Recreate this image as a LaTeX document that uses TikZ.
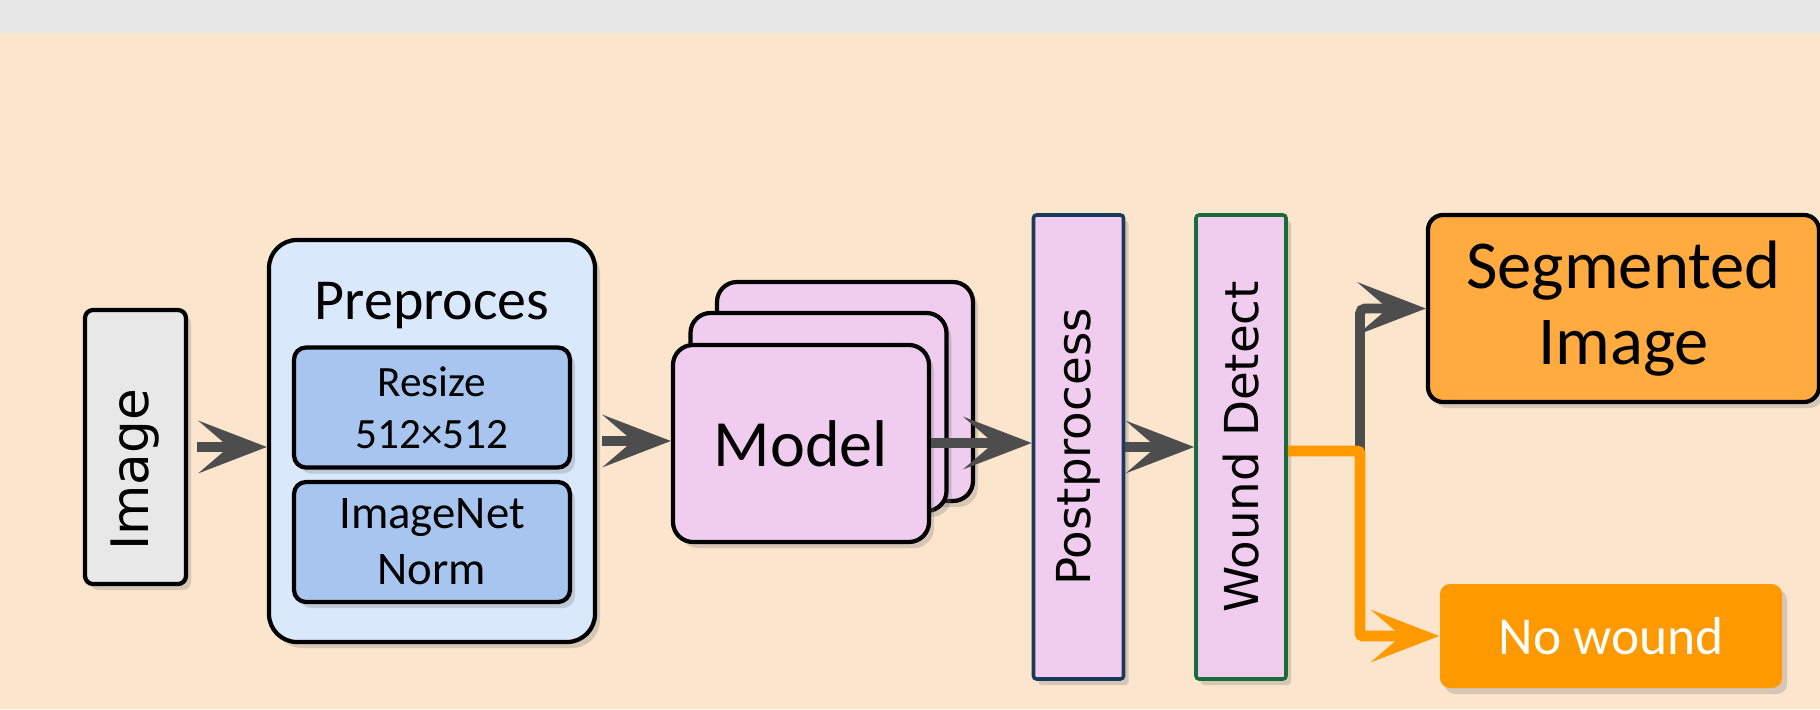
\documentclass[tikz,border=0pt]{standalone}
\usepackage{fontspec}
\setmainfont{Carlito}
\newfontfamily\vertfont{DejaVu Sans}
\usetikzlibrary{arrows.meta,shadows}
\definecolor{peach}{HTML}{FCE5CD}
\definecolor{titlegray}{HTML}{E7E7E7}
\definecolor{imggray}{HTML}{E8E8E8}
\definecolor{prefill}{HTML}{DAE8FC}
\definecolor{stepblue}{HTML}{A7C5EE}
\definecolor{modelpink}{HTML}{F0CCEE}
\definecolor{arrowgray}{HTML}{4D4D4D}
\definecolor{lineorange}{HTML}{FF9900}
\definecolor{segorange}{HTML}{FFAB40}
\definecolor{postblue}{HTML}{1A3A5C}
\definecolor{detectgreen}{HTML}{1A6B3C}

\begin{document}
\begin{tikzpicture}[
	shadowed/.style={drop shadow={shadow xshift=0.05cm, shadow yshift=-0.06cm, opacity=0.3}},
	box/.style={draw=black, line width=1.2pt, shadowed, inner sep=0pt, align=center},
	substep/.style={box, fill=stepblue, rounded corners=0.12cm, minimum width=2.76cm, minimum height=1.2cm},
	modelcard/.style={box, fill=modelpink, rounded corners=0.2cm, minimum width=2.56cm, minimum height=1.98cm},
	bar/.style={box, fill=modelpink, line width=1pt, rounded corners=0.03cm, minimum width=0.9cm, minimum height=4.64cm, font=\vertfont\fontsize{13.3pt}{16pt}\selectfont},
	flow/.style={draw=arrowgray, line width=2.8pt, -{Stealth[length=0.68cm, width=0.52cm, inset=0.3cm]}},
	>={Stealth[length=0.66cm, width=0.5cm, inset=0.3cm]}
]
	\useasboundingbox (0,0) rectangle (18.2,7.09);
	\fill[peach] (0,0) rectangle (18.2,6.76);
	\fill[titlegray] (0,6.76) rectangle (18.2,7.09);

	\node[box, fill=imggray, rounded corners=0.08cm, minimum width=1.01cm, minimum height=2.74cm,
		font=\vertfont\fontsize{14.7pt}{17pt}\selectfont] (img) at (1.355,2.62) {\rotatebox{90}{Image\hspace*{0.46cm}}};

	\node[box, fill=prefill, rounded corners=0.28cm, minimum width=3.26cm, minimum height=4.02cm] (pre) at (4.32,2.68) {};
	\node[anchor=base, font=\fontsize{16.5pt}{19pt}\selectfont] (pretitle) at (4.32,3.90) {Preproces};
	\node[substep, font=\fontsize{12.3pt}{14.8pt}\selectfont] (resize) at (4.32,3.015) {Resize\\512×512};
	\node[substep, font=\fontsize{13.3pt}{16pt}\selectfont] (norm) at (4.32,1.67) {ImageNet\\Norm};

	\node[modelcard, minimum height=2.19cm] (back) at (8.45,3.175) {};
	\node[modelcard] (mid) at (8.185,2.97) {};
	\node[modelcard, minimum height=1.97cm, font=\fontsize{18.8pt}{22pt}\selectfont] (model) at (8.01,2.655) {Model};

	\node[bar, draw=postblue] (post) at (10.785,2.62) {\rotatebox{90}{Postprocess}};
	\node[bar, draw=detectgreen] (detect) at (12.41,2.62) {\rotatebox{90}{Wound Detect}};

	\node[box, fill=segorange, rounded corners=0.15cm, minimum width=3.91cm, minimum height=1.87cm,
		font=\fontsize{19.5pt}{21.8pt}\selectfont] (seg) at (16.235,4.005) {Segmented\\Image};
	\node[shadowed, fill=lineorange, rounded corners=0.1cm, minimum width=3.42cm, minimum height=1.04cm,
		text=white, font=\fontsize{15.2pt}{18pt}\selectfont] (nowound) at (16.11,0.73) {No wound};

	\coordinate (split) at (13.6,2.58);

	\draw[flow, shorten <=0.09cm] (img.east) -- (pre.west |- img.east);
	\draw[flow, shorten <=0.05cm] (pre.east |- 0,2.68) -- (model.west |- 0,2.68);
	\draw[flow] (model.east |- 0,2.66) -- (post.west |- 0,2.66);
	\draw[flow] (post.east) -- (detect.west);
	\draw[flow, rounded corners=0.05cm] (split) |- (seg.west);
	\draw[flow, draw=lineorange, line width=3.1pt, rounded corners=0.03cm] (detect.east |- split) -- (split) |- (nowound.west);
\end{tikzpicture}
\end{document}
